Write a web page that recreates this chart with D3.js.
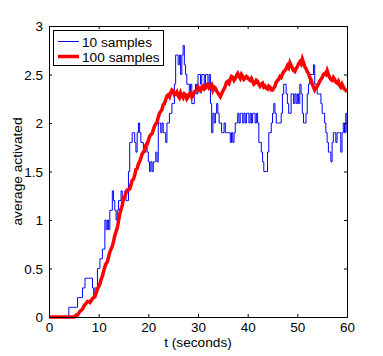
<!DOCTYPE html>
<html><head><meta charset="utf-8">
<script src="https://cdn.jsdelivr.net/npm/d3@7"></script>
<style>body{margin:0;background:#fff}svg{display:block}text{font-family:"Liberation Sans",Arial,sans-serif;fill:#000}</style>
</head><body><div id="chart"></div>
<script>
const seriesNames = ["10 samples", "100 samples"];
const xTicks = [0, 10, 20, 30, 40, 50, 60];
const yTicks = [0, 0.5, 1, 1.5, 2, 2.5, 3];
const yTickLabels = ["0", "0.5", "1", "1.5", "2", "2.5", "3"];
const blueStep = 0.25; // seconds between blue samples
const blueValues = [
 0,0,0,0, 0,0,0,0, 0,0,0,0, 0,0,0,0,
 0.1,0.1,0.1,0.1, 0.1,0.1,0.1,0.2, 0.2,0.2,0.2,0.3, 0.3,0.4,0.4,0.4,
 0.4,0.4,0.4,0.3, 0.2,0.3,0.3,0.5, 0.5,0.6,0.6,0.7, 0.7,1.0,0.9,1.0,
 0.9,1.1,1.1,1.3, 1.2,1.1,1.0,1.1, 1.2,1.2,1.3,1.2, 1.2,1.3,1.2,1.2,
 1.5,1.8,1.8,1.9, 1.9,1.8,1.7,1.9, 2.0,1.9,1.8,1.8, 1.7,1.7,1.8,1.7,
 1.6,1.5,1.6,1.5, 1.6,1.6,1.7,1.6, 2.0,2.0,1.9,2.0, 1.9,1.9,1.8,2.0,
 2.0,2.1,2.1,2.2, 2.2,2.4,2.7,2.7, 2.6,2.7,2.5,2.7, 2.8,2.6,2.5,2.4,
 2.4,2.3,2.4,2.2, 2.2,2.3,2.4,2.3, 2.5,2.5,2.4,2.5, 2.5,2.4,2.5,2.5,
 2.4,2.5,2.2,1.9, 2.1,2.0,2.1,2.2, 2.1,2.0,2.0,1.9, 1.9,2.0,1.9,1.9,
 1.9,1.9,1.8,1.9, 1.8,1.9,2.0,2.0, 2.1,2.0,2.1,2.1, 2.0,2.1,2.0,2.1,
 2.1,2.0,2.1,2.0, 2.1,2.1,2.0,2.1, 2.0,1.8,1.8,1.7, 1.6,1.5,1.5,1.5,
 1.7,1.9,1.9,2.0, 2.1,2.2,2.1,2.0, 2.0,2.0,2.0,2.1, 2.3,2.4,2.4,2.3,
 2.2,2.1,2.1,2.3, 2.3,2.2,2.3,2.2, 2.3,2.2,2.4,2.3, 2.1,2.0,2.0,2.1,
 2.3,2.4,2.5,2.5, 2.5,2.6,2.4,2.4, 2.3,2.3,2.3,2.2, 2.1,2.1,2.0,1.9,
 1.8,1.7,1.7,1.6, 1.8,1.9,1.9,1.8, 1.9,1.9,1.9,1.7, 1.9,2.0,1.9,2.1,
 1.9
];
const redStep = 0.25; // seconds between red samples
const redValues = [
 0,0,0,0, 0,0,0,0, 0,0,0,0, 0,0,0,0, 0,0,0,0,
 0.00,0.01,0.02,0.02, 0.04,0.06,0.07,0.08, 0.11,0.13,0.14,0.16,
 0.16,0.15,0.17,0.19, 0.20,0.21,0.25,0.29, 0.31,0.34,0.39,0.42,
 0.47,0.52,0.55,0.57, 0.62,0.67,0.70,0.73, 0.78,0.84,0.88,0.92,
 0.99,1.06,1.11,1.15, 1.23,1.24,1.28,1.31, 1.31,1.32,1.36,1.41,
 1.42,1.46,1.52,1.53, 1.58,1.60,1.64,1.68, 1.70,1.72,1.77,1.78,
 1.82,1.86,1.88,1.89, 1.93,1.97,1.99,2.01, 2.06,2.10,2.12,2.14,
 2.19,2.20,2.24,2.28, 2.29,2.27,2.31,2.34, 2.33,2.29,2.30,2.32,
 2.28,2.26,2.31,2.28, 2.26,2.30,2.29,2.25, 2.27,2.30,2.31,2.27,
 2.29,2.32,2.33,2.34, 2.37,2.34,2.33,2.37, 2.38,2.35,2.36,2.40,
 2.40,2.36,2.37,2.39, 2.34,2.37,2.36,2.33, 2.31,2.29,2.27,2.30,
 2.33,2.35,2.38,2.42, 2.43,2.41,2.45,2.48, 2.47,2.44,2.46,2.49,
 2.51,2.48,2.46,2.50, 2.48,2.45,2.46,2.48, 2.47,2.45,2.44,2.46,
 2.43,2.40,2.41,2.44, 2.43,2.40,2.38,2.40, 2.41,2.37,2.38,2.36,
 2.35,2.38,2.37,2.34, 2.34,2.36,2.38,2.42, 2.44,2.45,2.48,2.47,
 2.50,2.53,2.54,2.56, 2.59,2.57,2.62,2.59, 2.57,2.54,2.53,2.56,
 2.58,2.61,2.63,2.61, 2.66,2.62,2.58,2.56, 2.53,2.51,2.47,2.45,
 2.40,2.37,2.34,2.36, 2.38,2.40,2.43,2.45, 2.47,2.50,2.51,2.50,
 2.54,2.50,2.47,2.45, 2.44,2.47,2.45,2.42, 2.41,2.43,2.39,2.37,
 2.40,2.37,2.35,2.34, 2.32
];

const W = 383, H = 356;
const m = {left: 49, right: 347, top: 26, bottom: 317};
const svg = d3.select("#chart").append("svg").attr("width", W).attr("height", H);
const x = d3.scaleLinear().domain([0, 60]).range([m.left, m.right]);
const y = d3.scaleLinear().domain([0, 3]).range([m.bottom, m.top]);

svg.append("clipPath").attr("id", "clip").append("rect")
  .attr("x", m.left).attr("y", m.top - 2).attr("width", m.right - m.left).attr("height", m.bottom - m.top + 4);

const blueData = blueValues.map((v, i) => [i * blueStep, v]);
const redData = redValues.map((v, i) => [i * redStep, v]);

const g = svg.append("g").attr("clip-path", "url(#clip)");
g.append("path").datum(blueData)
  .attr("d", d3.line().x(d => x(d[0])).y(d => y(d[1])).curve(d3.curveStepAfter))
  .attr("fill", "none").attr("stroke", "#0000ff").attr("stroke-width", 1);
g.append("path").datum(redData)
  .attr("d", d3.line().x(d => x(d[0])).y(d => y(d[1])))
  .attr("fill", "none").attr("stroke", "#ff0000").attr("stroke-width", 3.5).attr("stroke-linejoin", "miter");

// axes (box with inward ticks)
const tl = 3;
const axB = svg.append("g").attr("transform", `translate(0,${m.bottom})`)
  .call(d3.axisBottom(x).tickValues(xTicks).tickSize(-tl).tickFormat(d3.format("d")));
const axT = svg.append("g").attr("transform", `translate(0,${m.top})`)
  .call(d3.axisTop(x).tickValues(xTicks).tickSize(-tl).tickFormat(""));
const axL = svg.append("g").attr("transform", `translate(${m.left},0)`)
  .call(d3.axisLeft(y).tickValues(yTicks).tickSize(-tl).tickPadding(6).tickFormat((d, i) => yTickLabels[i]));
const axR = svg.append("g").attr("transform", `translate(${m.right},0)`)
  .call(d3.axisRight(y).tickValues(yTicks).tickSize(-tl).tickFormat(""));
[axB, axT, axL, axR].forEach(a => {
  a.selectAll(".domain").attr("stroke", "#000").attr("stroke-width", 1);
  a.selectAll(".tick line").attr("stroke", "#000");
  a.selectAll("text").style("font-size", "13.5px").attr("fill", "#000");
});
axB.selectAll("text").attr("dy", null).attr("y", 15);
axL.selectAll("text").attr("dy", "0.36em");

svg.append("text").attr("x", (m.left + m.right) / 2).attr("y", 347)
  .attr("text-anchor", "middle").style("font-size", "13.7px").text("t (seconds)");
svg.append("text").attr("transform", `translate(22,${(m.top + m.bottom) / 2}) rotate(-90)`)
  .attr("text-anchor", "middle").style("font-size", "13.7px").text("average activated");

// legend
const lg = svg.append("g");
lg.append("rect").attr("x", 53.5).attr("y", 30.5).attr("width", 110).attr("height", 35)
  .attr("fill", "#fff").attr("stroke", "#000").attr("stroke-width", 1);
const legendColors = ["#0000ff", "#ff0000"], legendWidths = [1, 3.5];
seriesNames.forEach((name, i) => {
  const yy = 41.5 + i * 15;
  lg.append("line").attr("x1", 58).attr("x2", 79).attr("y1", yy).attr("y2", yy)
    .attr("stroke", legendColors[i]).attr("stroke-width", legendWidths[i]);
  lg.append("text").attr("x", 82).attr("y", yy + 5).style("font-size", "13.7px").text(name);
});
</script></body></html>
